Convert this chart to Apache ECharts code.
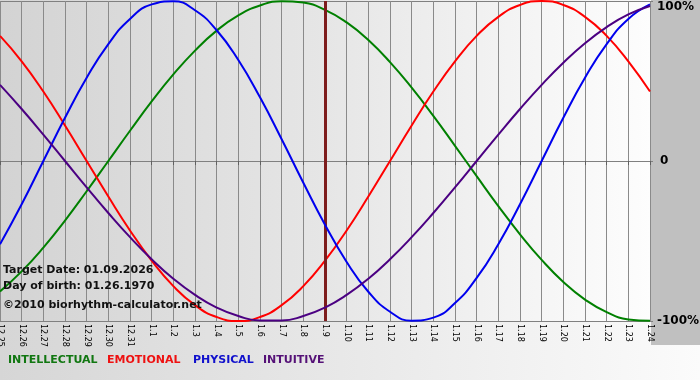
<!DOCTYPE html>
<html>
<head>
<meta charset="utf-8">
<script src="https://cdn.jsdelivr.net/npm/echarts@6/dist/echarts.min.js"></script>
<style>html,body{margin:0;padding:0;}#c{width:700px;height:380px;}</style>
</head>
<body>
<div id="c"></div>
<script>
var days = ['12.25','12.26','12.27','12.28','12.29','12.30','12.31','1.1','1.2','1.3','1.4','1.5','1.6','1.7','1.8','1.9','1.10','1.11','1.12','1.13','1.14','1.15','1.16','1.17','1.18','1.19','1.20','1.21','1.22','1.23','1.24'];
var intellectual = [-0.815,-0.690,-0.541,-0.372,-0.189,0,0.189,0.372,0.541,0.690,0.815,0.910,0.972,0.999,0.990,0.945,0.866,0.756,0.618,0.458,0.282,0.095,-0.095,-0.282,-0.458,-0.618,-0.756,-0.866,-0.945,-0.990,-0.999];
var emotional = [0.782,0.623,0.434,0.222,0,-0.222,-0.434,-0.623,-0.782,-0.901,-0.975,-1,-0.975,-0.901,-0.782,-0.623,-0.434,-0.222,0,0.222,0.434,0.623,0.782,0.901,0.975,1,0.975,0.901,0.782,0.623,0.434];
var physical = [-0.520,-0.270,0,0.270,0.520,0.731,0.888,0.979,0.998,0.942,0.817,0.631,0.398,0.136,-0.136,-0.398,-0.631,-0.817,-0.942,-0.998,-0.979,-0.888,-0.731,-0.520,-0.270,0,0.270,0.520,0.731,0.888,0.979];
var intuitive = [0.476,0.325,0.165,0,-0.165,-0.325,-0.476,-0.614,-0.736,-0.837,-0.916,-0.969,-0.997,-0.997,-0.969,-0.916,-0.837,-0.736,-0.614,-0.476,-0.325,-0.165,0,0.165,0.325,0.476,0.614,0.736,0.837,0.916,0.969];
var targetDay = '1.9';
var yTickLabels = {'1':'100%','0':'0','-1':'-100%'};
var seriesNames = ['INTELLECTUAL','EMOTIONAL','PHYSICAL','INTUITIVE'];
var seriesColors = ['#008000','#ff0000','#0000ee','#4b0082'];
var legendColors = ['#117711','#ee1111','#1111cc','#551177'];
var infoLines = ['Target Date: 01.09.2026','Day of birth: 01.26.1970','\u00a92010 biorhythm-calculator.net'];

var chart = echarts.init(document.getElementById('c'), null, {renderer:'canvas'});
var font = 'DejaVu Sans, Verdana, sans-serif';
var values = [intellectual, emotional, physical, intuitive];
var series = values.map(function(v, i){
  return {
    name: seriesNames[i], type:'line', data: v, smooth: true, showSymbol:false, symbol:'none',
    lineStyle:{color: seriesColors[i], width:2}, itemStyle:{color: seriesColors[i]}, z: 3 + i
  };
});
series[0].markLine = {
  silent:true, symbol:['none','none'], label:{show:false},
  lineStyle:{color:'#7d1c1c', width:3, type:'solid'},
  data:[{xAxis: targetDay}]
};
var legendX = [8, 107, 193, 263];
var graphics = [
  {type:'rect', silent:true, z:-10, shape:{x:0,y:0,width:700,height:380},
   style:{fill:new echarts.graphic.LinearGradient(0,0,1,0,[{offset:0,color:'#d6d6d6'},{offset:1,color:'#fbfbfb'}])}},
  {type:'rect', silent:true, z:-9, shape:{x:651,y:0,width:49,height:345}, style:{fill:'#c0c0c0'}}
];
infoLines.forEach(function(t, i){
  graphics.push({type:'text', left:3, top:[265,281,300][i], z:50,
    style:{text:t, font:'bold 11px ' + font, fill:'#111111'}});
});
seriesNames.forEach(function(n, i){
  graphics.push({type:'text', left:legendX[i], top:355, z:50,
    style:{text:n, font:'bold 11px ' + font, fill:legendColors[i]}});
});

chart.setOption({
  animation:false,
  backgroundColor:'transparent',
  grid:{left:0, right:50, top:1, bottom:59, show:true, borderWidth:0, containLabel:false, outerBoundsMode:'none',
    backgroundColor:new echarts.graphic.LinearGradient(0,0,1,0,[{offset:0,color:'#d3d3d3'},{offset:0.5,color:'#e6e6e6'},{offset:1,color:'#fdfdfd'}])},
  graphic: graphics,
  xAxis:{
    type:'category', data: days, boundaryGap:false,
    axisLine:{show:true, lineStyle:{color:'#808080', width:1}},
    axisTick:{show:true, length:4, lineStyle:{color:'#606060'}},
    splitLine:{show:true, lineStyle:{color:'#8a8a8a', width:1}},
    axisLabel:{rotate:-90, fontSize:8, color:'#000', fontFamily:font, margin:3, interval:0}
  },
  yAxis:{
    type:'value', position:'right', min:-1, max:1, interval:1,
    axisLine:{show:false},
    axisTick:{show:true, length:3, lineStyle:{color:'#808080'}},
    splitLine:{show:true, lineStyle:{color:'#808080', width:1}},
    axisLabel:{fontSize:12, fontWeight:'bold', color:'#000', fontFamily:font, margin:7,
      formatter:function(v){
        var s = yTickLabels[String(v)];
        if (v === 1) return '{t|' + s + '}';
        if (v === 0) return '{z|' + s + '}';
        return s;
      },
      rich:{
        t:{fontSize:12, fontWeight:'bold', color:'#000', fontFamily:font, padding:[12,0,0,0]},
        z:{fontSize:12, fontWeight:'bold', color:'#000', fontFamily:font, padding:[0,0,0,3]}
      }
    }
  },
  series: series
});
</script>
</body>
</html>
